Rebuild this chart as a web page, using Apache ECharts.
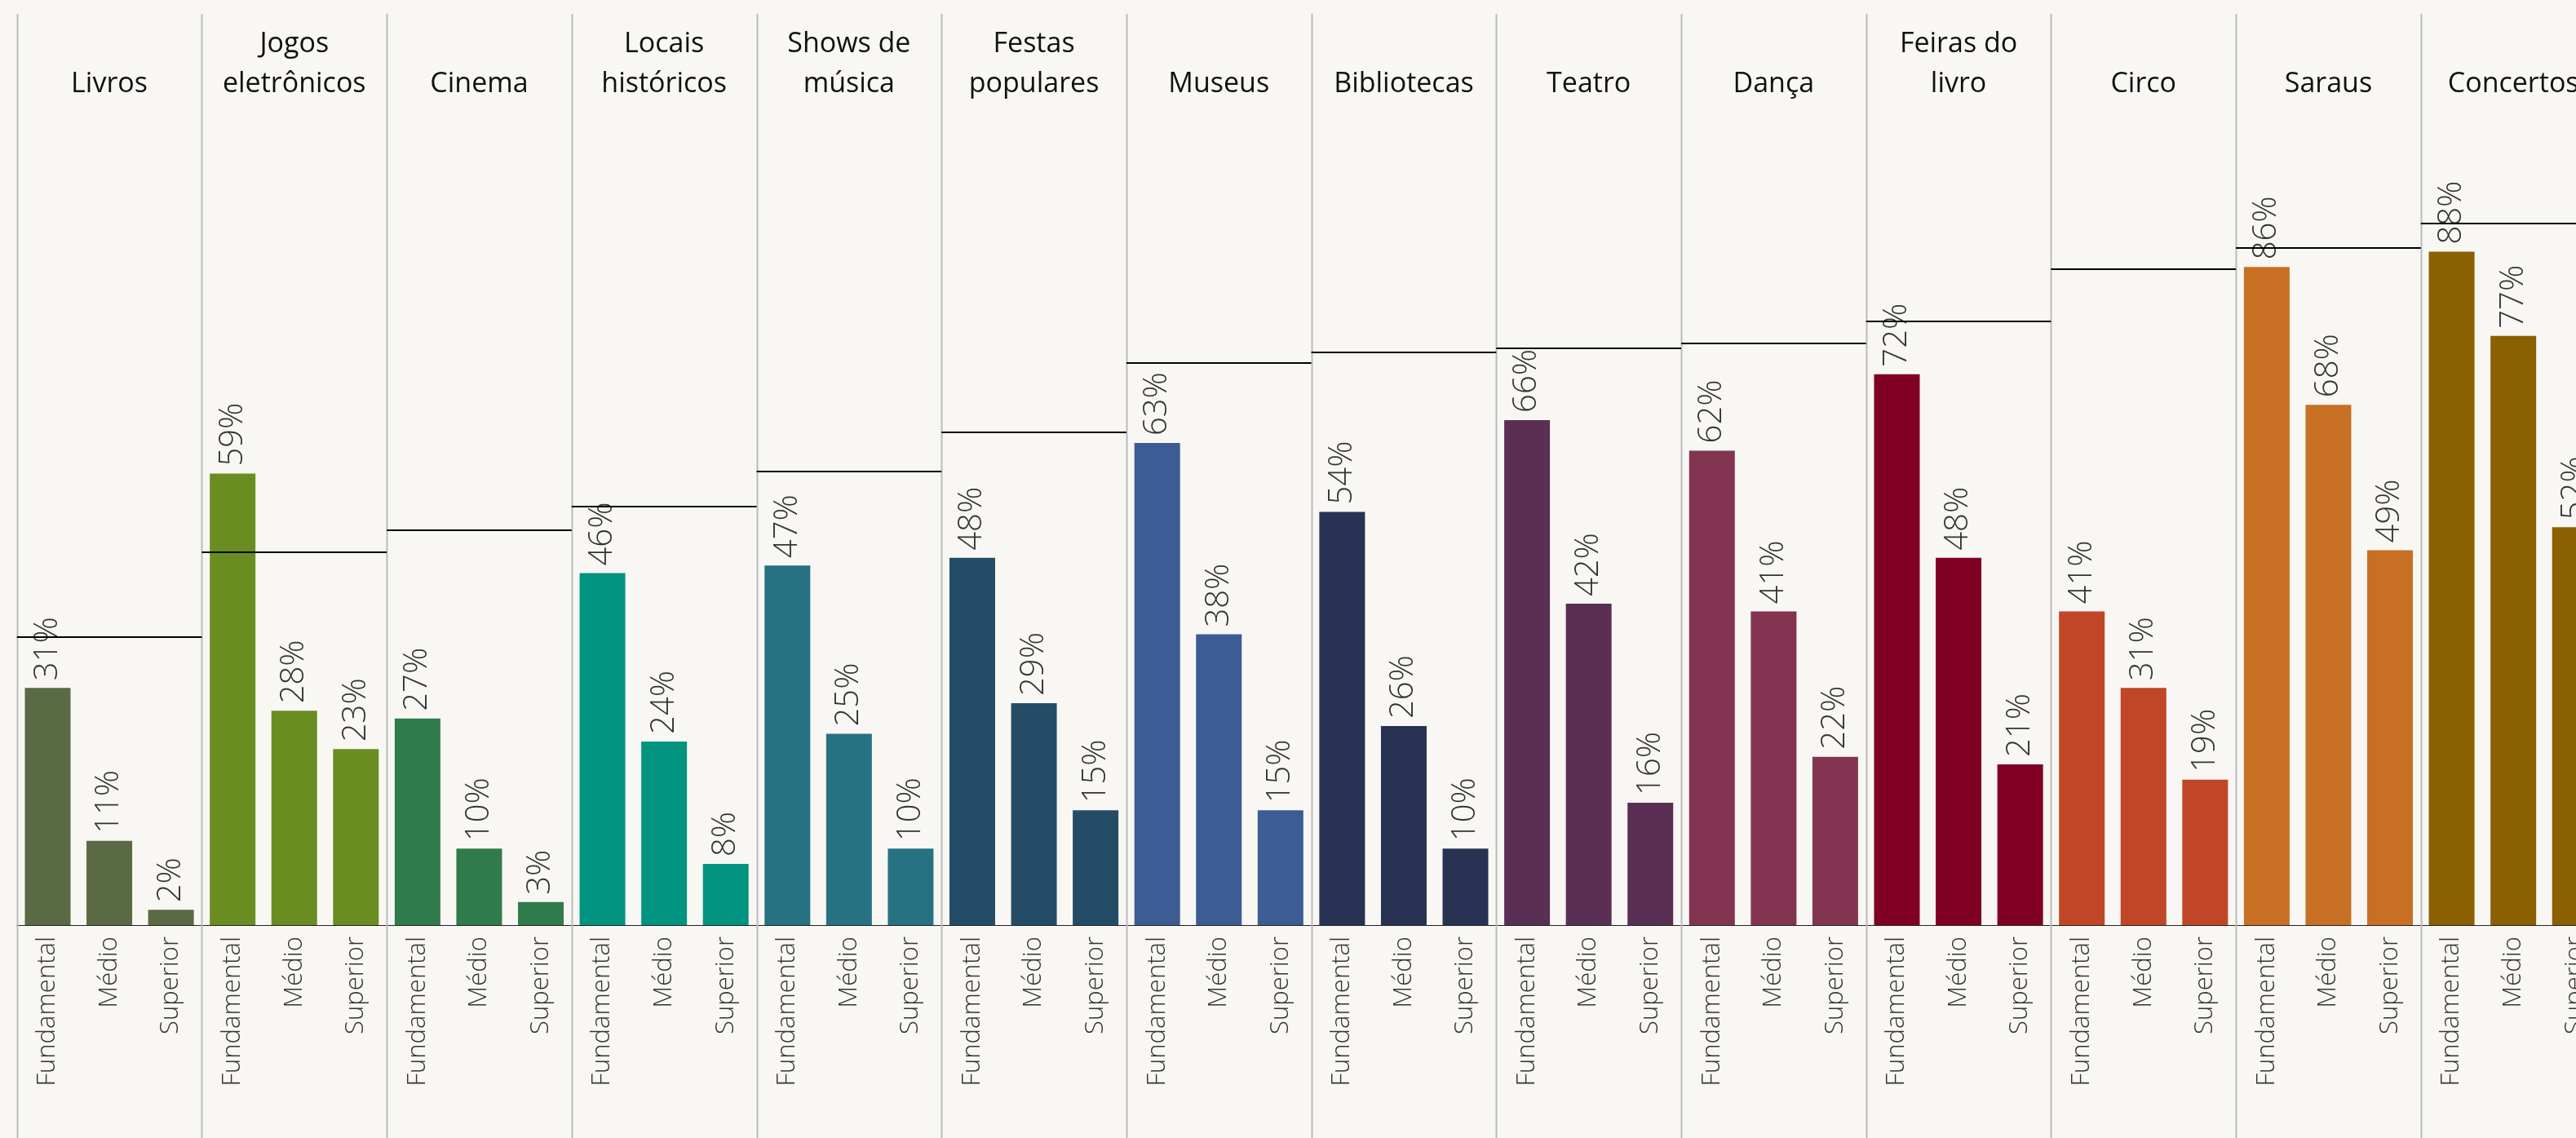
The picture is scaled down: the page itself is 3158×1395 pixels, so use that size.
<!DOCTYPE html>
<html>
<head>
<meta charset="utf-8">
<script src="https://cdn.jsdelivr.net/npm/echarts@6/dist/echarts.min.js"></script>
<style>
  html, body { margin: 0; padding: 0; background: #f9f7f3; }
  #chart { width: 3158px; height: 1395px; }
</style>
</head>
<body>
<div id="chart"></div>
<script>
// ---- Data ----
const activities = ['Livros', 'Jogos\neletrônicos', 'Cinema', 'Locais\nhistóricos', 'Shows de\nmúsica',
  'Festas\npopulares', 'Museus', 'Bibliotecas', 'Teatro', 'Dança', 'Feiras do\nlivro', 'Circo', 'Saraus', 'Concertos'];
const levels = ['Fundamental', 'Médio', 'Superior'];
const fundamental = [31, 59, 27, 46, 47, 48, 63, 54, 66, 62, 72, 41, 86, 88];
const medio       = [11, 28, 10, 24, 25, 29, 38, 26, 42, 41, 48, 31, 68, 77];
const superior    = [2, 23, 3, 8, 10, 15, 15, 10, 16, 22, 21, 19, 49, 52];
const referenceLine = [37.7, 48.7, 51.6, 54.7, 59.3, 64.4, 73.5, 74.9, 75.4, 76.0, 78.9, 85.7, 88.5, 91.7];
const palette = ['#5a6a44', '#6a8d22', '#307b4a', '#009480', '#267282', '#254c66', '#3d5c94',
  '#283252', '#5b2e53', '#823450', '#800023', '#bf4627', '#c77024', '#8b6000'];

// ---- Layout ----
const W = 3158, H = 1395;
const panelLeft = 20.7, panelW = 226.7;
const baseY = 1134, pxPerPct = 9.38;
const gridTop = baseY - 100 * pxPerPct;
const FONT = "'Open Sans', 'Noto Sans', sans-serif";

const chart = echarts.init(document.getElementById('chart'), null, { width: W, height: H, renderer: 'canvas' });

const grids = [], xAxes = [], yAxes = [], series = [], graphics = [];
activities.forEach((name, i) => {
  const left = panelLeft + i * panelW;
  grids.push({ left: left, width: panelW, top: gridTop, height: baseY - gridTop, outerBoundsMode: 'none', containLabel: false });
  xAxes.push({
    type: 'category', gridIndex: i, data: levels,
    axisLine: { show: true, lineStyle: { color: '#222', width: 1 } },
    axisTick: { show: false },
    axisLabel: { interval: 0, rotate: 90, margin: 14, fontSize: 31, fontFamily: FONT, fontWeight: 300, color: '#333' },
    splitLine: { show: false }
  });
  yAxes.push({ type: 'value', gridIndex: i, min: 0, max: 100, show: false, splitLine: { show: false } });
  series.push({
    type: 'bar', xAxisIndex: i, yAxisIndex: i,
    data: [fundamental[i], medio[i], superior[i]],
    barWidth: 56,
    itemStyle: { color: palette[i] },
    label: {
      show: true, position: 'top', rotate: 90, align: 'left', verticalAlign: 'middle', distance: 9,
      formatter: '{c}%', fontSize: 40, fontFamily: FONT, fontWeight: 300, color: '#333'
    },
    markLine: {
      silent: true, symbol: 'none', animation: false,
      label: { show: false },
      lineStyle: { color: '#000', width: 2, type: 'solid' },
      data: [{ yAxis: referenceLine[i] }]
    }
  });
  graphics.push({
    type: 'line', silent: true, z: 1,
    shape: { x1: Math.round(left) + 0.5, y1: 17, x2: Math.round(left) + 0.5, y2: H },
    style: { stroke: '#bcbcbc', lineWidth: 2 }
  });
  graphics.push({
    type: 'text', silent: true,
    x: left + panelW / 2, y: 127.5,
    style: {
      text: name, textAlign: 'center', textVerticalAlign: 'bottom',
      fontSize: 34, lineHeight: 49, fontFamily: FONT, fill: '#111'
    }
  });
});

chart.setOption({
  backgroundColor: '#f9f7f3',
  animation: false,
  grid: grids,
  xAxis: xAxes,
  yAxis: yAxes,
  series: series,
  graphic: graphics
});
</script>
</body>
</html>
